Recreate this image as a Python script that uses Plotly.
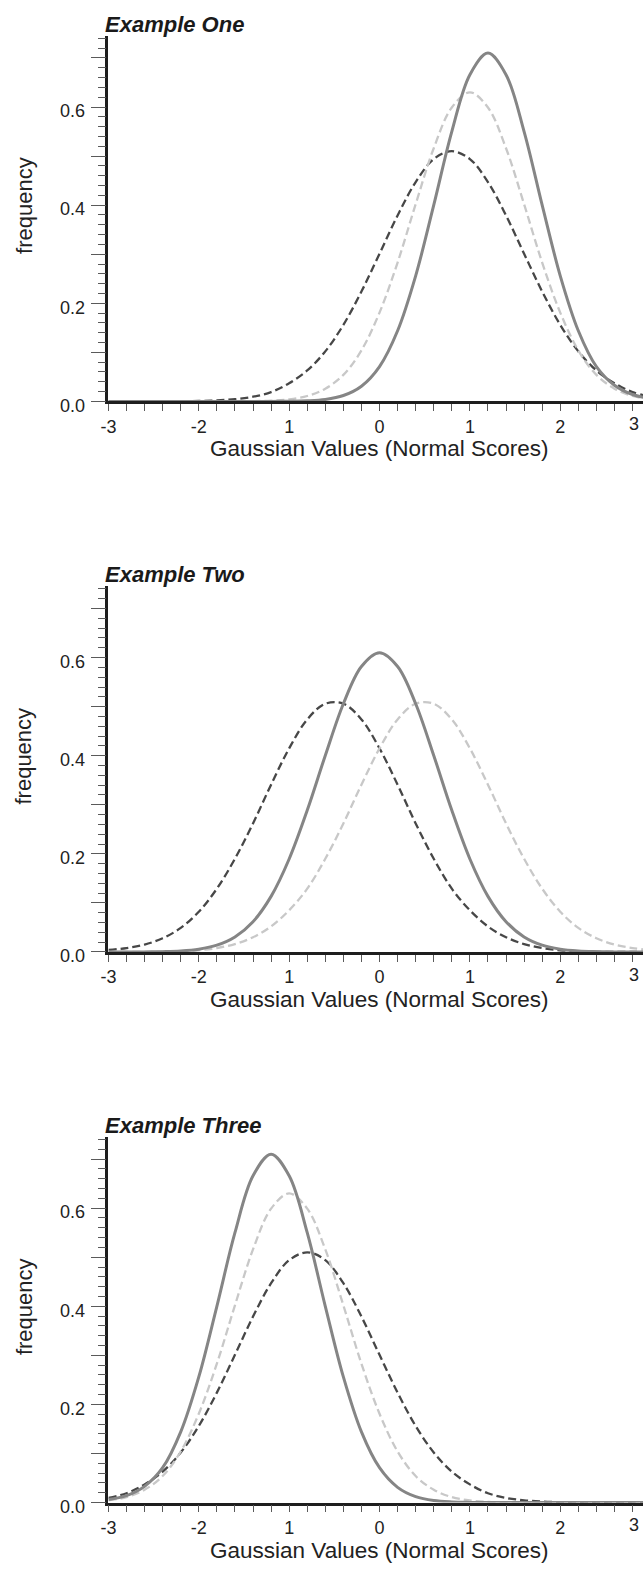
import plotly.graph_objects as go

# ---------------- data ----------------
x_vals = [-3.0, -2.8, -2.6, -2.4, -2.2, -2.0, -1.8, -1.6, -1.4, -1.2, -1.0,
          -0.8, -0.6, -0.4, -0.2, 0.0, 0.2, 0.4, 0.6, 0.8, 1.0,
          1.2, 1.4, 1.6, 1.8, 2.0, 2.2, 2.4, 2.6, 2.8, 3.0]

# Example One
ex1_solid = [0.0, 0.0, 0.0, 0.0, 0.0, 0.0, 0.0, 0.0, 0.0, 0.0, 0.0003,
             0.0012, 0.004, 0.012, 0.031, 0.071, 0.144, 0.256, 0.400, 0.550, 0.666,
             0.710, 0.666, 0.550, 0.400, 0.256, 0.144, 0.071, 0.033, 0.014, 0.006]
ex1_light = [0.0, 0.0, 0.0, 0.0, 0.0, 0.0, 0.0, 0.0, 0.0005, 0.0015, 0.0043,
             0.011, 0.026, 0.054, 0.104, 0.181, 0.283, 0.402, 0.516, 0.599, 0.630,
             0.599, 0.516, 0.402, 0.283, 0.181, 0.104, 0.054, 0.026, 0.011, 0.0045]
ex1_dark = [0.0, 0.0, 0.0, 0.0001, 0.0003, 0.0008, 0.002, 0.0045, 0.0095, 0.019, 0.037,
            0.063, 0.102, 0.156, 0.224, 0.301, 0.379, 0.447, 0.494, 0.510, 0.494,
            0.447, 0.379, 0.301, 0.224, 0.156, 0.102, 0.063, 0.037, 0.019, 0.0095]

# Example Two
ex2_solid = [0.0, 0.0, 0.0, 0.0007, 0.0021, 0.0057, 0.0138, 0.0306, 0.0617, 0.1133, 0.1895,
             0.2887, 0.4005, 0.506, 0.582, 0.610, 0.582, 0.506, 0.4005, 0.2887, 0.1895,
             0.1133, 0.0617, 0.0306, 0.0138, 0.0057, 0.0021, 0.0007, 0.0, 0.0, 0.0]
ex2_dark = [0.004, 0.008, 0.015, 0.028, 0.049, 0.082, 0.129, 0.190, 0.262, 0.341, 0.415,
            0.474, 0.506, 0.506, 0.474, 0.415, 0.341, 0.262, 0.190, 0.129, 0.085,
            0.052, 0.030, 0.016, 0.008, 0.0035, 0.0015, 0.0005, 0.0002, 0.0, 0.0]
ex2_light = [0.0, 0.0, 0.0002, 0.0005, 0.0015, 0.0035, 0.008, 0.016, 0.030, 0.052, 0.085,
             0.129, 0.190, 0.262, 0.341, 0.415, 0.474, 0.506, 0.506, 0.474, 0.415,
             0.341, 0.262, 0.190, 0.129, 0.082, 0.049, 0.028, 0.015, 0.008, 0.004]

# Example Three
ex3_solid = [0.006, 0.014, 0.033, 0.071, 0.144, 0.256, 0.400, 0.550, 0.666, 0.710, 0.666,
             0.550, 0.400, 0.256, 0.144, 0.071, 0.031, 0.012, 0.004, 0.0012, 0.0003,
             0.0, 0.0, 0.0, 0.0, 0.0, 0.0, 0.0, 0.0, 0.0, 0.0]
ex3_light = [0.0045, 0.011, 0.026, 0.054, 0.104, 0.181, 0.283, 0.402, 0.516, 0.599, 0.630,
             0.599, 0.516, 0.402, 0.283, 0.181, 0.104, 0.054, 0.026, 0.011, 0.0043,
             0.0015, 0.0005, 0.0, 0.0, 0.0, 0.0, 0.0, 0.0, 0.0, 0.0]
ex3_dark = [0.0095, 0.019, 0.037, 0.063, 0.102, 0.156, 0.224, 0.301, 0.379, 0.447, 0.494,
            0.510, 0.494, 0.447, 0.379, 0.301, 0.224, 0.156, 0.102, 0.063, 0.037,
            0.019, 0.0095, 0.0045, 0.002, 0.0008, 0.0003, 0.0001, 0.0, 0.0, 0.0]

panel_titles = ["Example One", "Example Two", "Example Three"]
x_tick_vals = [-3, -2, -1, 0, 1, 2]
x_tick_text = ["-3", "-2", "1", "0", "1", "2"]
last_x_label = "3"
y_tick_vals = [0.0, 0.1, 0.2, 0.3, 0.4, 0.5, 0.6, 0.7]
y_tick_text = ["0.0", "", "0.2", "", "0.4", "", "0.6", ""]
x_title = "Gaussian Values (Normal Scores)"
y_title = "frequency"

panels = [
    (ex1_solid, ex1_light, ex1_dark),
    (ex2_solid, ex2_light, ex2_dark),
    (ex3_solid, ex3_light, ex3_dark),
]

# ---------------- layout geometry ----------------
W, H = 643, 1576
AX_LEFT = 101.7
X_UNIT = 91.5
Y_MAX = 0.745
Y_UNIT = 495.0
ZERO_PIX = [405.0, 960.5, 1516.0]

x_range = [-3, -3 + (W - AX_LEFT) / X_UNIT]

FONT = "Liberation Sans, Arial, Helvetica, sans-serif"
SOLID_C = "#858585"
LIGHT_C = "#c8c8c8"
DARK_C = "#474747"
TICK_C = "#5a5a5a"
TEXT_C = "#222222"

fig = go.Figure()
annotations = []
layout_axes = {}

for k, (solid, light, dark) in enumerate(panels):
    n = "" if k == 0 else str(k + 1)
    xa, ya = "x" + n, "y" + n
    for vals, color, dash, width in [
        (dark, DARK_C, "8px,4px", 2.3),
        (light, LIGHT_C, "8px,4px", 2.3),
        (solid, SOLID_C, "solid", 3.0),
    ]:
        fig.add_trace(go.Scatter(
            x=x_vals, y=vals, mode="lines", xaxis=xa, yaxis=ya,
            line=dict(color=color, dash=dash, width=width, shape="spline", smoothing=1.0),
            showlegend=False, hoverinfo="skip"))

    y0 = ZERO_PIX[k]
    ytop = y0 - Y_MAX * Y_UNIT
    dom = [1 - y0 / H, 1 - ytop / H]

    layout_axes["xaxis" + n] = dict(
        domain=[AX_LEFT / W, 1], range=x_range, anchor=ya,
        showline=True, linecolor="#1e1e1e", linewidth=2.5,
        showgrid=False, zeroline=False,
        ticks="outside", ticklen=7, tickwidth=1.2, tickcolor=TICK_C,
        tickvals=x_tick_vals, ticktext=x_tick_text,
        tickfont=dict(family=FONT, size=18, color=TEXT_C),
        minor=dict(dtick=0.2, tick0=0, ticks="outside", ticklen=7, tickwidth=1.2,
                   tickcolor=TICK_C, showgrid=False),
    )
    layout_axes["yaxis" + n] = dict(
        domain=dom, range=[0, Y_MAX], anchor=xa,
        showline=True, linecolor="#1e1e1e", linewidth=2.5,
        showgrid=False, zeroline=False,
        ticks="outside", ticklen=15, tickwidth=1.2, tickcolor=TICK_C,
        tickvals=y_tick_vals, ticktext=y_tick_text,
        ticklabelshift=4, ticklabelstandoff=2,
        tickfont=dict(family=FONT, size=18, color=TEXT_C),
        minor=dict(dtick=0.02, tick0=0, ticks="outside", ticklen=8, tickwidth=1.2,
                   tickcolor=TICK_C, showgrid=False),
    )

    # panel title
    annotations.append(dict(
        text="<b><i>" + panel_titles[k] + "</i></b>", xref="paper", yref="paper",
        x=(AX_LEFT - 6) / W, y=1 - (ytop - 12) / H, xanchor="left", yanchor="middle",
        showarrow=False, font=dict(family=FONT, size=22, color="#1a1a1a")))
    # clipped last tick label "3"
    annotations.append(dict(
        text=last_x_label, xref="paper", yref="paper",
        x=1, xshift=-2, y=1 - (y0 + 23) / H, xanchor="right", yanchor="middle",
        showarrow=False, font=dict(family=FONT, size=18, color=TEXT_C)))
    # x axis title
    annotations.append(dict(
        text=x_title, xref="paper", yref="paper",
        x=376 / W, y=1 - (y0 + 48) / H, xanchor="center", yanchor="middle",
        showarrow=False, font=dict(family=FONT, size=22.5, color=TEXT_C)))
    # y axis title
    annotations.append(dict(
        text=y_title, xref="paper", yref="paper", textangle=-90,
        x=16 / W, y=1 - (y0 - 0.4 * Y_UNIT) / H, xanchor="center", yanchor="middle",
        showarrow=False, font=dict(family=FONT, size=22, color=TEXT_C)))

fig.update_layout(
    width=W, height=H,
    margin=dict(l=0, r=0, t=0, b=0),
    paper_bgcolor="white", plot_bgcolor="white",
    annotations=annotations,
    **layout_axes,
)

fig.write_html("out.html")
